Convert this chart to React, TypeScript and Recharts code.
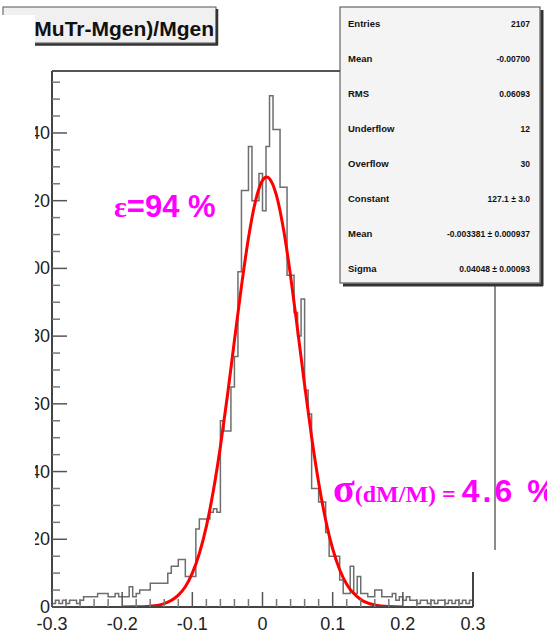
import React from 'react';
import { ComposedChart, Line, XAxis, YAxis, ReferenceLine } from 'recharts';

// ---- data ----
const binLow = -0.3;
const binWidth = 0.005;
const histCounts = [
  1, 2, 1, 2, 1, 2, 2, 1, 2, 3,
  3, 3, 3, 4, 4, 4, 3, 3, 4, 3,
  3, 3, 6, 3, 4, 5, 5, 5, 7, 7,
  7, 7, 7, 10, 12, 12, 14, 14, 9, 9,
  9, 23, 26, 26, 26, 28, 29, 28, 55, 52,
  52, 65, 74, 99, 123, 123, 136, 120, 120, 128,
  117, 136, 151, 141, 141, 124, 124, 98, 98, 87,
  80, 91, 64, 57, 35, 35, 31, 31, 22, 15,
  15, 15, 8, 4, 4, 12, 4, 9, 4, 4,
  3, 3, 5, 5, 3, 3, 3, 4, 2, 3,
  2, 3, 2, 2, 1, 2, 2, 1, 2, 1,
  2, 2, 1, 2, 1, 2, 1, 2, 1, 2,
];
const fitX = [-0.2, -0.18, -0.16, -0.14, -0.12, -0.11, -0.1, -0.09, -0.08, -0.07, -0.06, -0.05, -0.04, -0.03, -0.02, -0.01, 0, 0.006, 0.01, 0.02, 0.03, 0.04, 0.05, 0.06, 0.07, 0.08, 0.09, 0.1, 0.11, 0.12, 0.14, 0.16, 0.18, 0.2];
const fitY = [0.01, 0.05, 0.25, 1.0, 3.5, 6.0, 10.0, 15.8, 23.8, 34.4, 47.4, 62.4, 78.7, 94.7, 109, 119.9, 126, 127, 126.5, 121.5, 111.5, 97.8, 81.9, 65.6, 50.2, 36.8, 25.7, 17.2, 11.0, 6.7, 2.2, 0.6, 0.13, 0.03];

const xMajorTicks = [-0.3, -0.2, -0.1, 0, 0.1, 0.2, 0.3];
const xMajorLabels = ['-0.3', '-0.2', '-0.1', '0', '0.1', '0.2', '0.3'];
const xMinorTicks = [-0.28, -0.26, -0.24, -0.22, -0.18, -0.16, -0.14, -0.12, -0.08, -0.06, -0.04, -0.02, 0.02, 0.04, 0.06, 0.08, 0.12, 0.14, 0.16, 0.18, 0.22, 0.24, 0.26, 0.28];
const yMajorTicks = [0, 20, 40, 60, 80, 100, 120, 140];
const yMinorTicks = [5, 10, 15, 25, 30, 35, 45, 50, 55, 65, 70, 75, 85, 90, 95, 105, 110, 115, 125, 130, 135, 145, 150, 155];
const yMax = 158.3;

const titleText = '(MuTr-Mgen)/Mgen';
const statsLabels = ['Entries', 'Mean', 'RMS', 'Underflow', 'Overflow', 'Constant', 'Mean', 'Sigma'];
const statsValues = ['2107', '-0.00700', '0.06093', '12', '30', '127.1 ± 3.0', '-0.003381 ± 0.000937', '0.04048 ± 0.00093'];

const histData = histCounts.map((c, i) => ({ x: +(binLow + i * binWidth).toFixed(4), y: c }));
histData.push({ x: 0.3, y: histCounts[histCounts.length - 1] });
const fitData = fitX.map((x, i) => ({ x, y: fitY[i] }));

const xTicks = [...xMajorTicks, ...xMinorTicks].sort((a, b) => a - b);
const yTicks = [...yMajorTicks, ...yMinorTicks].sort((a, b) => a - b);

const FONT = '"Liberation Sans", Arial, sans-serif';
const SERIF = '"Liberation Serif", "Times New Roman", serif';

const XTick = (props: any) => {
  const { x, y, payload } = props;
  const v = payload.value;
  const idx = xMajorTicks.findIndex((t) => Math.abs(t - v) < 1e-6);
  const major = idx >= 0;
  return (
    <g>
      <line x1={x} x2={x} y1={y} y2={y - (major ? 15 : 8)} stroke={major ? '#555' : '#777'} strokeWidth={1.5} />
      {major && (
        <text x={x} y={y + 23} textAnchor="middle" fontSize={18} fontFamily={FONT} fill="#222">
          {xMajorLabels[idx]}
        </text>
      )}
    </g>
  );
};

const YTick = (props: any) => {
  const { x, y, payload } = props;
  const v = payload.value;
  const major = yMajorTicks.includes(v);
  return (
    <g>
      <line x1={x} x2={x + (major ? 15 : 8)} y1={y} y2={y} stroke={major ? '#555' : '#777'} strokeWidth={1.5} />
      {major && (
        <text x={x - 2} y={y + 6} textAnchor="end" fontSize={18} fontFamily={FONT} fill="#222">
          {String(v)}
        </text>
      )}
    </g>
  );
};

export default function App() {
  return (
    <div style={{ position: 'absolute', left: 0, top: 0, width: 547, height: 641, background: '#fff', overflow: 'hidden' }}>
      <ComposedChart width={547} height={641} margin={{ top: 71, right: 74, bottom: 0, left: 0 }}>
        <XAxis
          type="number"
          dataKey="x"
          domain={[-0.3, 0.3]}
          ticks={xTicks}
          interval={0}
          height={34}
          tickSize={0}
          tickMargin={0}
          tickLine={false}
          axisLine={{ stroke: '#444', strokeWidth: 2 }}
          tick={<XTick />}
          allowDataOverflow
        />
        <YAxis
          type="number"
          domain={[0, yMax]}
          ticks={yTicks}
          interval={0}
          width={52}
          tickSize={0}
          tickMargin={0}
          tickLine={false}
          axisLine={{ stroke: '#444', strokeWidth: 2 }}
          tick={<YTick />}
          allowDataOverflow
        />
        <ReferenceLine y={yMax} stroke="#555" strokeWidth={2} />
        <Line
          data={histData}
          dataKey="y"
          type="stepAfter"
          stroke="#6e6e6e"
          strokeWidth={1.5}
          dot={false}
          isAnimationActive={false}
        />
        <Line
          data={fitData}
          dataKey="y"
          type="monotone"
          stroke="#ff0000"
          strokeWidth={3}
          dot={false}
          isAnimationActive={false}
        />
      </ComposedChart>
      <svg width={547} height={641} style={{ position: 'absolute', left: 0, top: 0, pointerEvents: 'none' }}>
        {/* title box */}
        <rect x={3} y={7} width={213} height={36} fill="#f0f0f0" stroke="#555" strokeWidth={1} />
        <line x1={217} x2={217} y1={9} y2={45} stroke="#333" strokeWidth={2.5} />
        <line x1={5} x2={218} y1={44.5} y2={44.5} stroke="#333" strokeWidth={2.5} />
        <text x={214} y={36} textAnchor="end" fontSize={21} fontWeight="bold" fontFamily={FONT} fill="#111">
          {titleText}
        </text>
        {/* left white cut */}
        <rect x={0} y={15} width={35} height={626} fill="#fff" />
        {/* extra lines */}
        <line x1={495} x2={495} y1={286} y2={550} stroke="#666" strokeWidth={1.5} />
        <line x1={473} x2={473} y1={572} y2={607} stroke="#444" strokeWidth={2} />
        {/* stats box */}
        <rect x={340} y={7} width={200} height={276} fill="#f4f4f4" stroke="#444" strokeWidth={1} />
        <line x1={542} x2={542} y1={10} y2={286} stroke="#333" strokeWidth={3} />
        <line x1={343} x2={543} y1={285} y2={285} stroke="#333" strokeWidth={3} />
        {statsLabels.map((l, i) => (
          <g key={i}>
            <text x={348} y={27 + i * 35} fontSize={9.5} fontWeight="bold" fontFamily={FONT} fill="#111">
              {l}
            </text>
            <text x={530} y={27 + i * 35} textAnchor="end" fontSize={8.5} fontWeight="bold" fontFamily={FONT} fill="#111">
              {statsValues[i]}
            </text>
          </g>
        ))}
        {/* annotations */}
        <text x={114} y={217} fill="#f0f" fontWeight="bold">
          <tspan fontFamily={SERIF} fontSize={30}>ε</tspan>
          <tspan fontFamily={FONT} fontSize={31}>=94 %</tspan>
        </text>
        <text x={333} y={502} fill="#f0f" fontWeight="bold">
          <tspan fontFamily={SERIF} fontSize={40}>σ</tspan>
          <tspan fontFamily={SERIF} fontSize={24}>(dM/M) = </tspan>
          <tspan fontFamily={FONT} fontSize={32} letterSpacing={3}>4.6 %</tspan>
        </text>
      </svg>
    </div>
  );
}
